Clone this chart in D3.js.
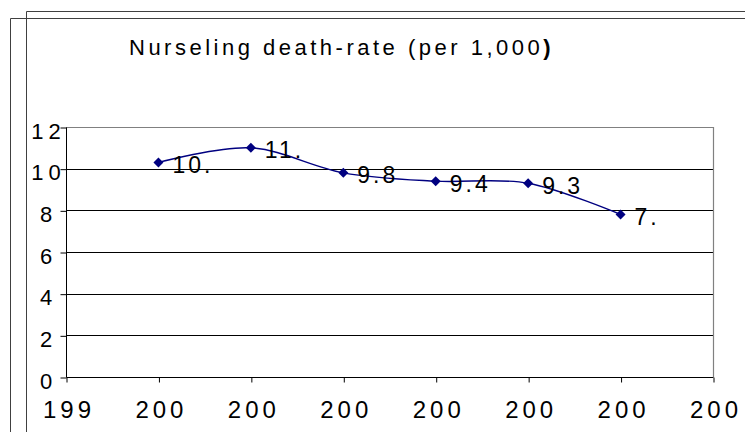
<!DOCTYPE html>
<html>
<head>
<meta charset="utf-8">
<script src="https://cdn.jsdelivr.net/npm/d3@7"></script>
<style>
  html, body { margin: 0; padding: 0; background: #fff; }
  svg { display: block; font-family: "Liberation Sans", Arial, sans-serif; }
</style>
</head>
<body>
<svg id="chart" width="745" height="432"></svg>
<script>
// ---- data ----
const titleText = "Nurseling death-rate  (per 1,000";
const titleTail = ")";
const xLabels = ["199", "200", "200", "200", "200", "200", "200", "200"];
const values = [null, 10.3, 11.0, 9.8, 9.4, 9.3, 7.8, null];
const valueLabels = [null, "10.", "11.", "9.8", "9.4", "9.3", "7.", null];
const yTicks = [0, 2, 4, 6, 8, 10, 12];

// ---- layout ----
const W = 745, H = 432;
const plot = { left: 66, right: 713, top: 127, bottom: 377 };
const svg = d3.select("#chart");

// outer frames
svg.append("path")
  .attr("d", `M26.5,${H} V11.5 H${W}`)
  .attr("fill", "none").attr("stroke", "#404040").attr("stroke-width", 1);
svg.append("path")
  .attr("d", `M10.5,${H} V18.5 H${W}`)
  .attr("fill", "none").attr("stroke", "#404040").attr("stroke-width", 1);

// title
const title = svg.append("text")
  .attr("x", 129).attr("y", 55)
  .attr("font-size", 22)
  .style("letter-spacing", "3.5px")
  .attr("fill", "#000");
title.append("tspan").text(titleText);
title.append("tspan").attr("font-weight", "bold").text(titleTail);

// scales
const x = d3.scalePoint().domain(d3.range(xLabels.length)).range([plot.left, plot.right]);
const y = d3.scaleLinear().domain([0, 12]).range([plot.bottom, plot.top]);

// gridlines
svg.append("g").selectAll("line")
  .data(yTicks.filter(v => v > 0 && v < 12))
  .join("line")
  .attr("x1", plot.left).attr("x2", plot.right)
  .attr("y1", d => Math.round(y(d)) + 0.5).attr("y2", d => Math.round(y(d)) + 0.5)
  .attr("stroke", "#000").attr("stroke-width", 1);

// plot border (top & right)
svg.append("path")
  .attr("d", `M${plot.left},${plot.top + 0.5} H${plot.right + 0.5} V${plot.bottom}`)
  .attr("fill", "none").attr("stroke", "#808080").attr("stroke-width", 1.2);

// y axis
const yAxis = svg.append("g")
  .attr("transform", `translate(${plot.left + 0.5},0.5)`)
  .call(d3.axisLeft(y).tickValues(yTicks).tickSize(6).tickSizeOuter(0).tickFormat(d3.format("d")));
yAxis.select(".domain").attr("stroke", "#000").attr("d", `M0,${plot.top} V${plot.bottom}`);
yAxis.selectAll(".tick line").attr("stroke", "#000");
yAxis.selectAll(".tick text")
  .attr("font-family", "Liberation Sans, Arial, sans-serif")
  .attr("font-size", 22)
  .attr("fill", "#000")
  .attr("text-anchor", "middle")
  .attr("x", -18)
  .attr("dy", null)
  .attr("y", 10.5)
  .style("letter-spacing", "5px");

// x axis
const xAxis = svg.append("g")
  .attr("transform", `translate(0.5,${plot.bottom + 0.5})`)
  .call(d3.axisBottom(x).tickSize(5).tickSizeOuter(0).tickFormat(i => xLabels[i]));
xAxis.select(".domain").attr("stroke", "#000").attr("d", `M${plot.left},0 H${plot.right}`);
xAxis.selectAll(".tick line").attr("stroke", "#000");
xAxis.selectAll(".tick text")
  .attr("font-family", "Liberation Sans, Arial, sans-serif")
  .attr("font-size", 24)
  .attr("fill", "#000")
  .attr("text-anchor", "middle")
  .attr("x", 2)
  .attr("dy", null)
  .attr("y", 40)
  .style("letter-spacing", "4px");

// series
const pts = values.map((v, i) => ({ i, v, label: valueLabels[i] })).filter(d => d.v != null);

const line = d3.line()
  .x(d => x(d.i))
  .y(d => y(d.v))
  .curve(d3.curveCatmullRom.alpha(0));

svg.append("path")
  .datum(pts)
  .attr("d", line)
  .attr("fill", "none")
  .attr("stroke", "#000080")
  .attr("stroke-width", 1.4);

svg.append("g").selectAll("path")
  .data(pts)
  .join("path")
  .attr("d", d3.symbol().type(d3.symbolSquare).size(50))
  .attr("transform", d => `translate(${x(d.i)},${y(d.v)}) rotate(45)`)
  .attr("fill", "#000080");

svg.append("g").selectAll("text")
  .data(pts)
  .join("text")
  .attr("x", d => x(d.i) + 14)
  .attr("y", d => y(d.v) + 10.5)
  .attr("font-size", 23)
  .style("letter-spacing", "3px")
  .attr("fill", "#000")
  .text(d => d.label);
</script>
</body>
</html>
